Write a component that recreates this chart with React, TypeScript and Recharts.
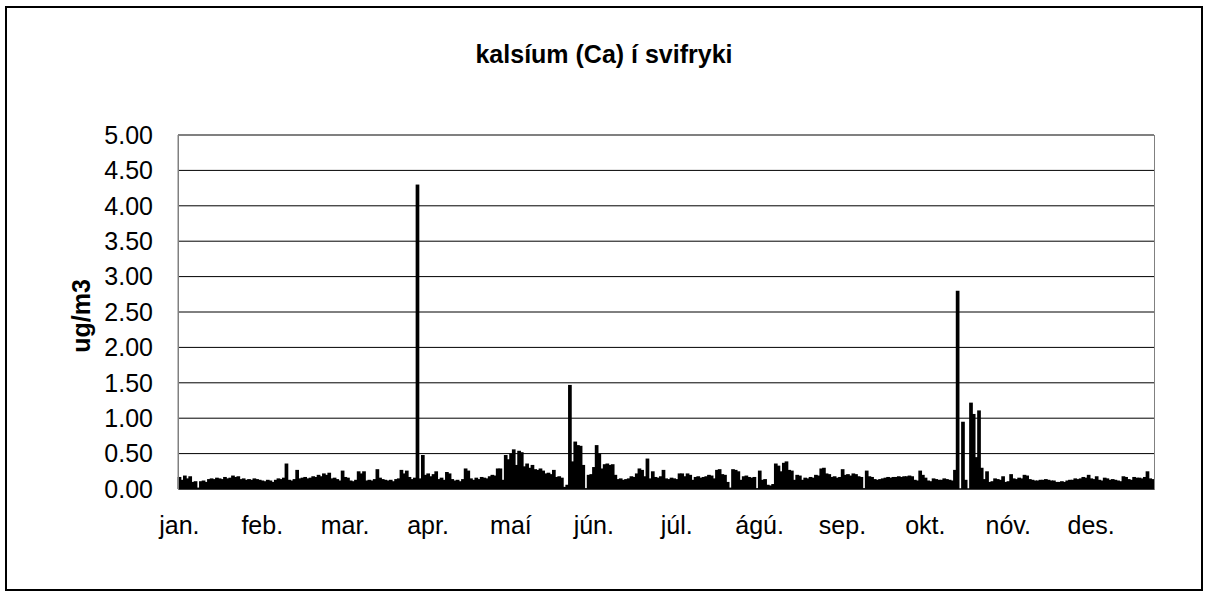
import { Bar, BarChart, CartesianGrid, XAxis, YAxis } from 'recharts';

const monthLabels = ['jan.', 'feb.', 'mar.', 'apr.', 'maí', 'jún.', 'júl.', 'ágú.', 'sep.', 'okt.', 'nóv.', 'des.'];
const yTicks = [0, 0.5, 1, 1.5, 2, 2.5, 3, 3.5, 4, 4.5, 5];

// daily calcium values, ug/m3
const jan = [0.17, 0.13, 0.19, 0.15, 0.18, 0.1, 0.11, 0.02, 0.11, 0.12, 0.1, 0.14, 0.15, 0.14, 0.16, 0.15, 0.14, 0.17, 0.15, 0.16, 0.19, 0.17, 0.18, 0.14, 0.15, 0.13, 0.14, 0.13, 0.15, 0.14, 0.13];
const feb = [0.12, 0.11, 0.13, 0.12, 0.1, 0.13, 0.15, 0.14, 0.16, 0.36, 0.13, 0.12, 0.14, 0.27, 0.15, 0.16, 0.17, 0.15, 0.16, 0.18, 0.17, 0.2, 0.18, 0.22, 0.2, 0.23, 0.15, 0.16];
const mar = [0.14, 0.12, 0.26, 0.17, 0.16, 0.12, 0.11, 0.13, 0.25, 0.22, 0.25, 0.12, 0.13, 0.12, 0.14, 0.28, 0.16, 0.14, 0.13, 0.12, 0.13, 0.11, 0.14, 0.15, 0.27, 0.22, 0.26, 0.17, 0.14, 0.16, 4.3];
const apr = [0.15, 0.48, 0.2, 0.22, 0.18, 0.21, 0.25, 0.14, 0.16, 0.13, 0.24, 0.22, 0.14, 0.12, 0.13, 0.11, 0.14, 0.29, 0.26, 0.15, 0.13, 0.16, 0.14, 0.17, 0.16, 0.15, 0.18, 0.2, 0.19, 0.29];
const mai = [0.29, 0.13, 0.48, 0.42, 0.5, 0.56, 0.34, 0.54, 0.52, 0.32, 0.36, 0.3, 0.34, 0.28, 0.27, 0.29, 0.26, 0.22, 0.23, 0.21, 0.27, 0.17, 0.18, 0.16, 0.03, 0.06, 1.47, 0.39, 0.67, 0.62, 0.61];
const jun = [0.34, 0.01, 0.2, 0.21, 0.31, 0.62, 0.5, 0.29, 0.35, 0.36, 0.34, 0.35, 0.2, 0.14, 0.15, 0.13, 0.14, 0.15, 0.18, 0.17, 0.22, 0.29, 0.27, 0.18, 0.43, 0.15, 0.25, 0.17, 0.16, 0.18];
const jul = [0.27, 0.15, 0.14, 0.16, 0.15, 0.14, 0.22, 0.22, 0.18, 0.22, 0.2, 0.13, 0.17, 0.18, 0.16, 0.17, 0.18, 0.2, 0.19, 0.15, 0.27, 0.28, 0.21, 0.2, 0.1, 0.02, 0.28, 0.27, 0.25, 0.13, 0.18];
const agu = [0.19, 0.17, 0.16, 0.17, 0.01, 0.26, 0.13, 0.14, 0.06, 0.05, 0.07, 0.36, 0.33, 0.25, 0.37, 0.39, 0.27, 0.26, 0.13, 0.2, 0.19, 0.13, 0.16, 0.15, 0.17, 0.16, 0.2, 0.19, 0.29, 0.3, 0.22];
const sep = [0.21, 0.17, 0.18, 0.16, 0.17, 0.28, 0.2, 0.21, 0.19, 0.22, 0.21, 0.18, 0.17, 0.01, 0.26, 0.18, 0.17, 0.14, 0.13, 0.14, 0.15, 0.16, 0.17, 0.16, 0.17, 0.17, 0.18, 0.17, 0.18, 0.18];
const okt = [0.19, 0.18, 0.13, 0.12, 0.26, 0.2, 0.16, 0.12, 0.11, 0.15, 0.14, 0.13, 0.13, 0.15, 0.14, 0.13, 0.12, 0.27, 2.8, 0, 0.95, 0.13, 0, 1.22, 1.06, 0.45, 1.11, 0.3, 0.14, 0.25, 0.1];
const nov = [0.11, 0.15, 0.14, 0.13, 0.18, 0.1, 0.11, 0.21, 0.15, 0.14, 0.16, 0.15, 0.2, 0.19, 0.14, 0.13, 0.12, 0.12, 0.13, 0.13, 0.14, 0.13, 0.12, 0.12, 0.1, 0.1, 0.11, 0.1, 0.12, 0.13];
const des = [0.13, 0.15, 0.14, 0.15, 0.17, 0.16, 0.2, 0.15, 0.14, 0.18, 0.13, 0.12, 0.16, 0.15, 0.13, 0.14, 0.13, 0.12, 0.11, 0.18, 0.17, 0.14, 0.13, 0.17, 0.16, 0.16, 0.15, 0.17, 0.25, 0.15, 0.14];

const months = [jan, feb, mar, apr, mai, jun, jul, agu, sep, okt, nov, des];

const rows = months
  .flatMap((vals, m) => vals.map((v) => ({ month: monthLabels[m], v })))
  .map((r, i) => ({ ...r, i }));

const font = 'Arial, "Liberation Sans", sans-serif';

// bars are floored to whole px by recharts, widen them a bit so they touch
const DayBar = (props: any) => {
  const { x, y, width, height } = props;
  if (!height || height <= 0) return null;
  return <rect x={x - 0.35} y={y} width={width + 0.7} height={height} fill="#000" />;
};

export default function App() {
  return (
    <div style={{ position: 'absolute', left: 0, top: 0, width: 1208, height: 596, background: '#fff', fontFamily: font }}>
      <div
        style={{
          position: 'absolute',
          left: 5,
          top: 6,
          width: 1198,
          height: 585,
          border: '2px solid #000',
          boxSizing: 'border-box',
        }}
      />
      <div
        style={{
          position: 'absolute',
          left: 0,
          width: 1208,
          top: 42,
          textAlign: 'center',
          fontSize: 25,
          lineHeight: '25px',
          fontWeight: 'bold',
        }}
      >
        kalsíum (Ca) í svifryki
      </div>
      <div
        style={{
          position: 'absolute',
          left: 81,
          top: 316,
          fontSize: 25,
          lineHeight: '25px',
          fontWeight: 'bold',
          whiteSpace: 'nowrap',
          transform: 'translate(-50%, -50%) rotate(-90deg)',
        }}
      >
        ug/m3
      </div>
      <div style={{ position: 'absolute', left: 0, top: 0 }}>
        <BarChart
          width={1208}
          height={596}
          data={rows}
          barCategoryGap={0}
          barGap={0}
          margin={{ top: 135, right: 54, left: 98, bottom: 47 }}
          style={{ fontFamily: font }}
        >
          <CartesianGrid vertical={false} stroke="#000" strokeOpacity={1} />
          <XAxis
            dataKey="i"
            interval={30}
            tickLine={false}
            tickSize={0}
            tickMargin={27}
            height={60}
            axisLine={{ stroke: '#000' }}
            tick={{ fontSize: 25, fill: '#000' }}
            tickFormatter={(i: number) => rows[i]?.month ?? ''}
          />
          <YAxis
            width={80}
            domain={[0, 5]}
            ticks={yTicks}
            tickLine={false}
            tickSize={0}
            tickMargin={25}
            axisLine={{ stroke: '#808080' }}
            tick={{ fontSize: 25, fill: '#000' }}
            tickFormatter={(v: number) => v.toFixed(2)}
          />
          <Bar dataKey="v" fill="#000" shape={DayBar} isAnimationActive={false} />
        </BarChart>
      </div>
      <div
        style={{
          position: 'absolute',
          left: 178,
          top: 135,
          width: 977,
          height: 355,
          border: '1px solid #808080',
          borderBottom: 'none',
          boxSizing: 'border-box',
          pointerEvents: 'none',
        }}
      />
    </div>
  );
}
